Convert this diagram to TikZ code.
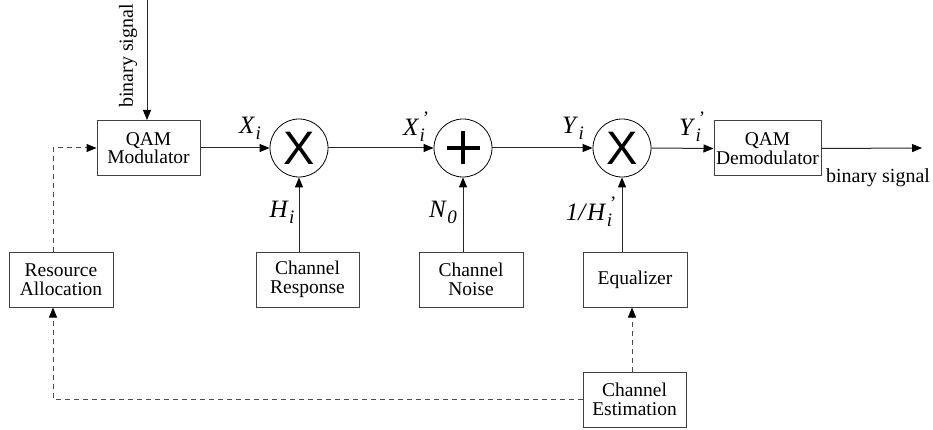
\documentclass[tikz,border=0pt]{standalone}
\usepackage{fontspec}
\setmainfont{Liberation Serif}
\newfontfamily\opsans{Liberation Sans}
\usetikzlibrary{arrows.meta}
\newcommand{\sublab}[2]{\textit{#1}\kern0.5pt{\fontsize{19}{19}\selectfont\raisebox{-6pt}{\textit{#2}}}}
\newcommand{\subprime}[2]{\textit{#1}\kern0.5pt{\fontsize{19}{19}\selectfont\rlap{\raisebox{11pt}{\kern2pt\textit{'}}}\raisebox{-6pt}{\textit{#2}}}}
\begin{document}
\begin{tikzpicture}[x=1pt,y=-1pt,
  line width=1pt,
  boxnode/.style={draw=black!75,line width=1pt,minimum width=103pt,minimum height=55pt,inner sep=0pt,align=center,font=\fontsize{19.5}{18.5}\selectfont},
  opnode/.style={draw=black,line width=0.8pt,circle,minimum size=58pt,inner sep=0pt,font=\opsans\fontsize{47}{47}\selectfont},
  tip/.style={-{Triangle[length=10pt,width=8pt,color=black,fill=black]}},
  sig/.style={draw=black!85,tip},
  dashline/.style={draw=black!70,dash pattern=on 5pt off 4pt},
  dasharrow/.style={dashline,tip},
  lab/.style={inner sep=0pt,font=\fontsize{25}{25}\selectfont},
  txt/.style={inner sep=0pt,font=\fontsize{20}{20}\selectfont}
]
\useasboundingbox (0,0) rectangle (933,430);
\node[boxnode] (mod) at (148.5,148) {QAM\\Modulator};
\node[opnode] (m1) at (299,148) {X};
\node[opnode] (add) at (463,148) {};
\draw[line width=4pt] ([xshift=-16.5pt]add.center) -- ([xshift=16.5pt]add.center);
\draw[line width=4pt] ([yshift=-16.5pt]add.center) -- ([yshift=16.5pt]add.center);
\node[opnode] (m2) at (622,148) {X};
\node[boxnode,minimum width=107pt] (demod) at (767.5,148.5) {QAM\\Demodulator};
\coordinate (out) at (922,148);
\coordinate (in) at (147,0);
\node[boxnode] (resp) at (307.5,279.5) {Channel\\Response};
\node[boxnode,minimum width=104pt] (noise) at (471,279.5) {Channel\\Noise};
\node[boxnode,minimum width=104pt] (eq) at (635,279.5) {Equalizer};
\node[boxnode] (est) at (634.5,399.5) {Channel\\Estimation};
\node[boxnode,minimum width=104pt] (res) at (61,279.5) {Resource\\Allocation};
\coordinate (c1) at (53,399.5);
\coordinate (c2) at (53,148);
\coordinate (ex) at (632,0);
% labels
\node[txt,rotate=90] (lin) at (128,56) {binary signal};
\node[txt] (lout) at (878,178) {binary signal};
\node[lab] (lx) at (250,128) {\sublab{X}{i}};
\node[lab] (lxp) at (414,127) {\subprime{X}{i}};
\node[lab] (ly) at (573,128) {\sublab{Y}{i}};
\node[lab] (lyp) at (690,127) {\subprime{Y}{i}};
\node[lab] (lh) at (282,212) {\sublab{H}{i}};
\node[lab] (ln) at (443,212) {\sublab{N}{0}};
\node[lab] (lhp) at (589,212) {\textit{1/}\subprime{H}{i}};
% connectors
\draw[sig] (in) -- (in |- mod.north);
\draw[sig] (mod.east) -- (m1.west);
\draw[sig] (m1.east) -- (add.west);
\draw[sig] (add.east) -- (m2.west);
\draw[sig] (m2.east) -- (demod.west);
\draw[sig] (demod.east) -- (out);
\draw[sig] (m1 |- resp.north) -- (m1.south);
\draw[sig] (add |- noise.north) -- (add.south);
\draw[sig] (m2 |- eq.north) -- (m2.south);
\draw[dasharrow] (ex |- est.north) -- (ex |- eq.south);
\draw[dasharrow] (est.west) -- (c1) -- (c1 |- res.south);
\draw[dasharrow] (c2 |- res.north) -- (c2) -- (mod.west);
\end{tikzpicture}
\end{document}
